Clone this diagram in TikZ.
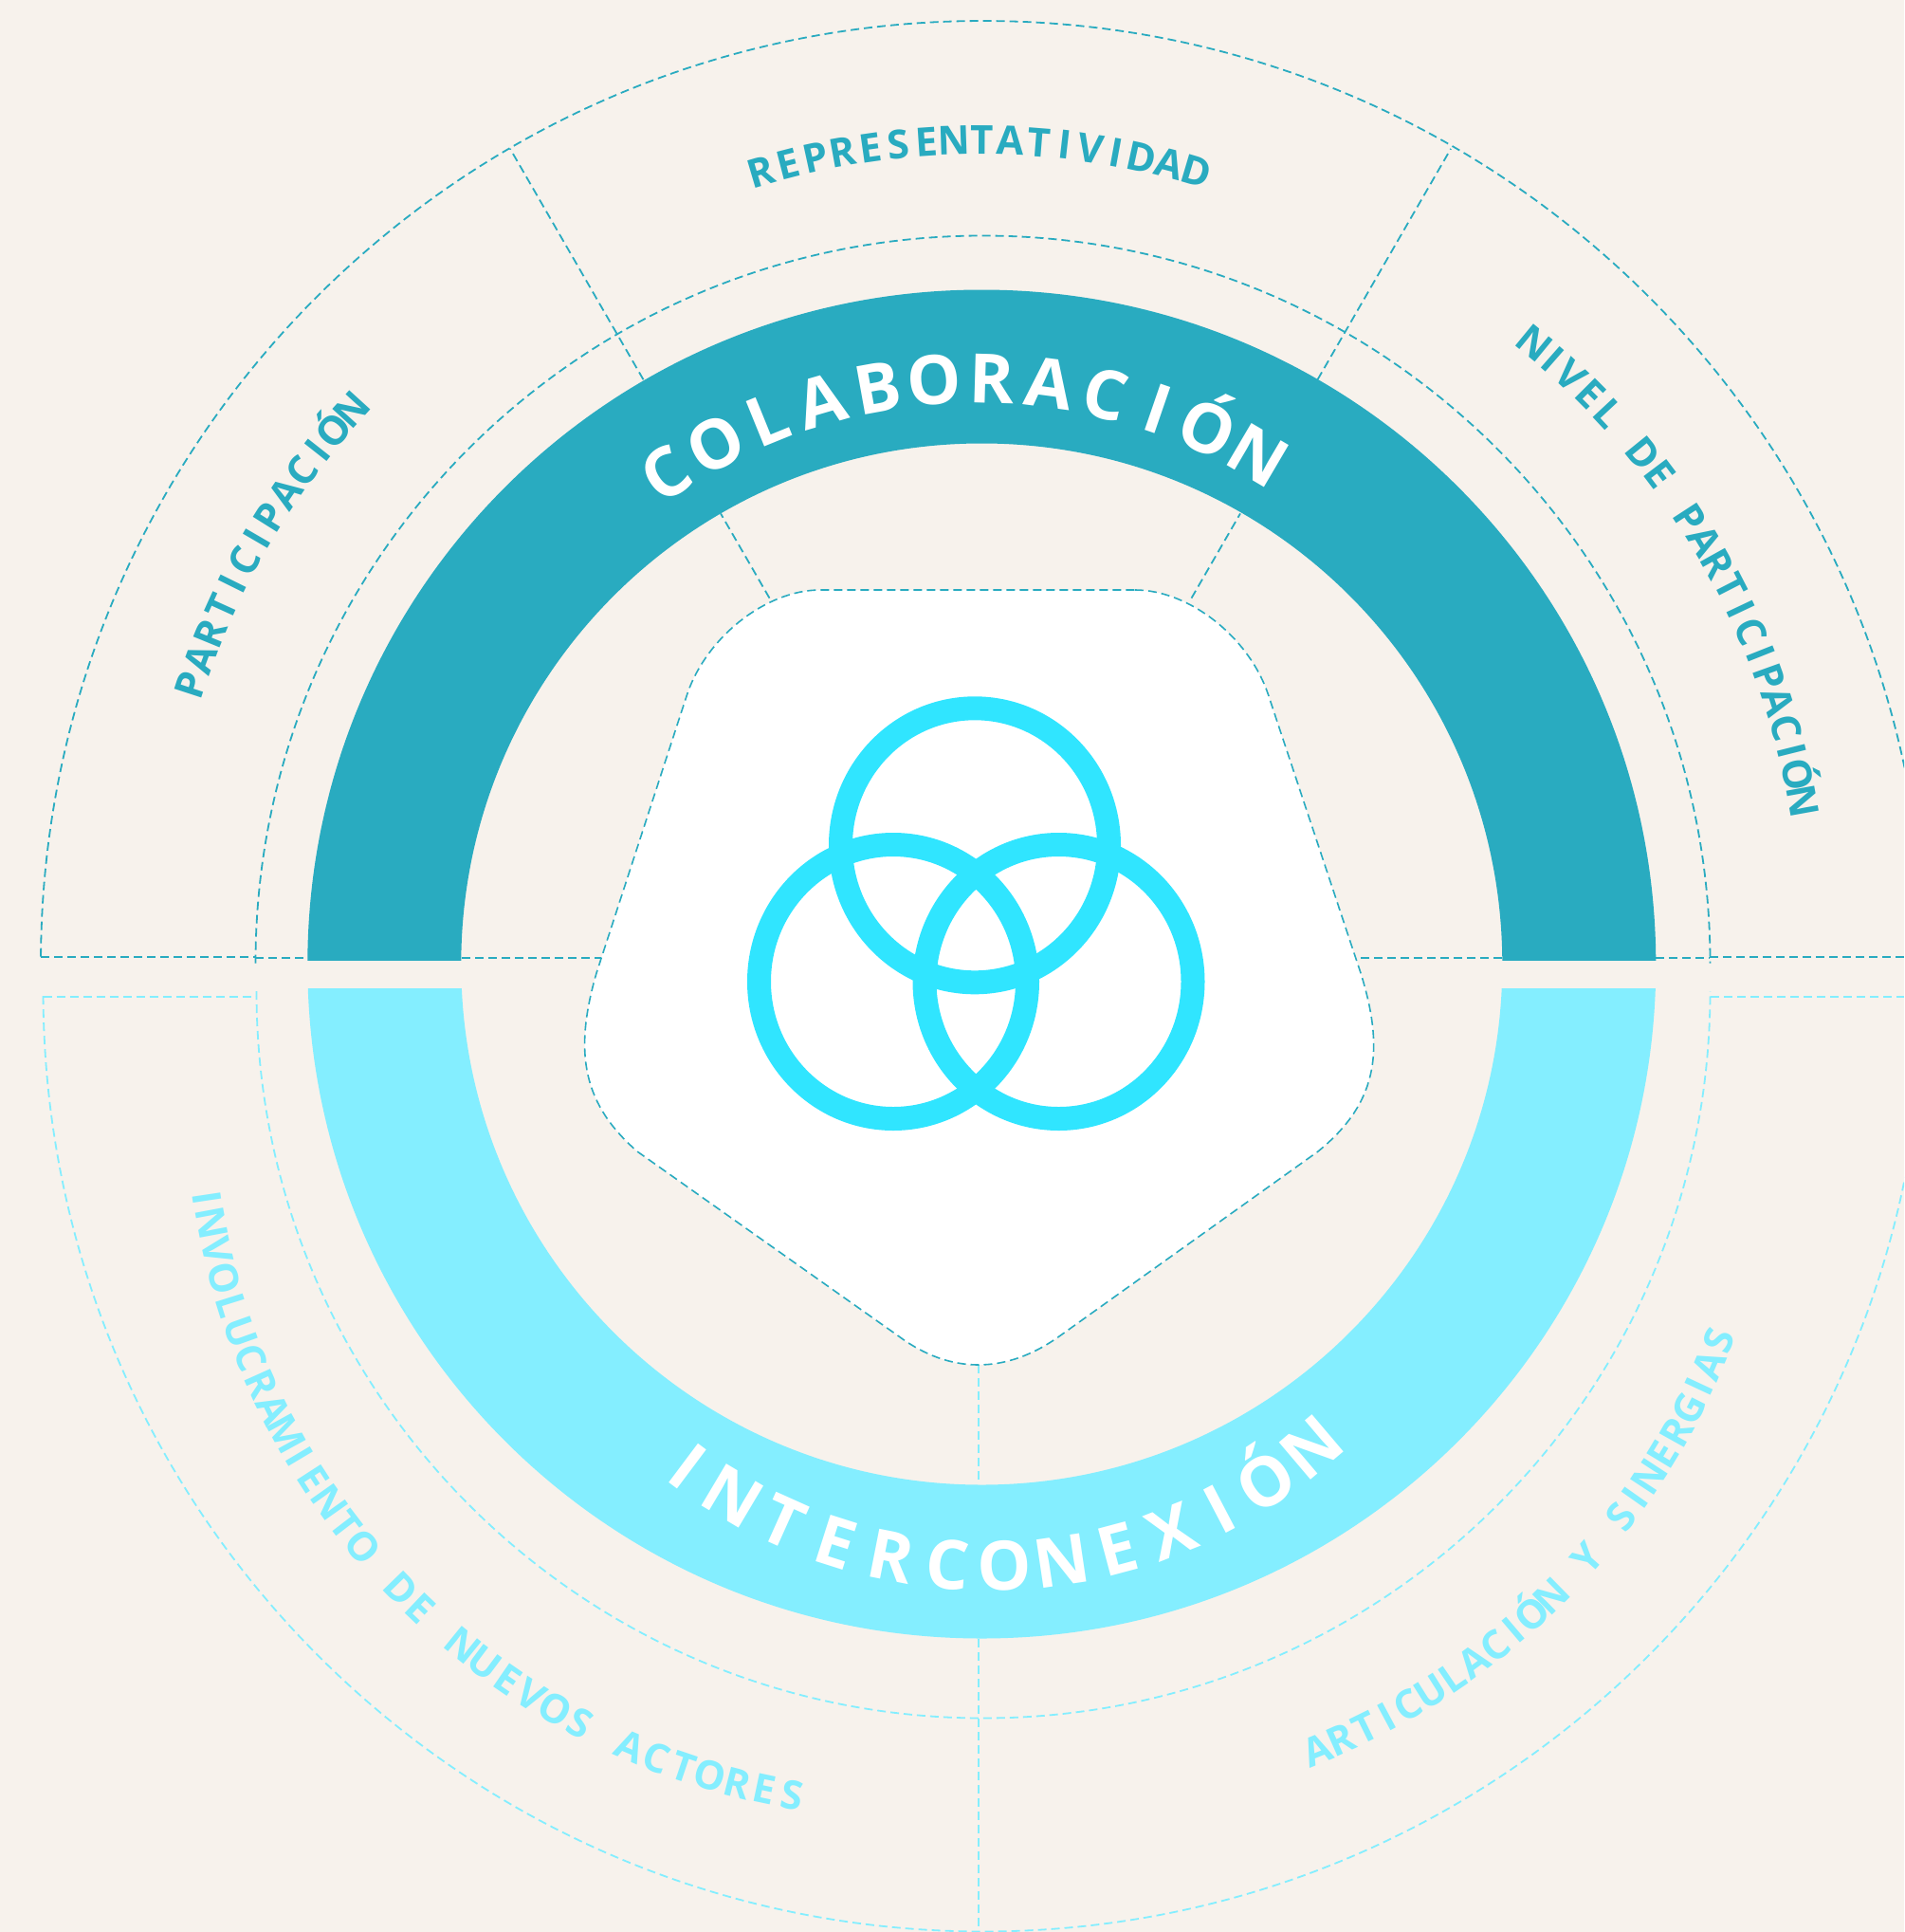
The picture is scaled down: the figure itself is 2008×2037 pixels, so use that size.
\documentclass[tikz,border=0pt]{standalone}
\usepackage{fontspec}
\setmainfont{Open Sans}
\usetikzlibrary{calc}
\definecolor{bgc}{HTML}{F7F2EC}
\definecolor{tealc}{HTML}{29ABC0}
\definecolor{lightc}{HTML}{84EEFF}
\definecolor{ringc}{HTML}{30E5FF}
\newlength\glyphw \newlength\totalw \newlength\runs \newlength\gapw
\newcount\glyphn
\def\spacemark{~}
\def\Imark{I}
% advance of one glyph: tighter for I and for the word space
\newcommand{\measureglyph}[1]{%
  \settowidth\glyphw{\lblfont\g}%
  \ifx\g\Imark \advance\glyphw by -0.1\dimexpr#1pt\relax \fi
  \ifx\g\spacemark \glyphw=0.1\glyphw \fi}
% cx, cy (px, down), radius, start angle, end angle, colour, size, comma list of glyphs
\newcommand{\arclabel}[8]{%
  \begingroup
  \def\lblfont{\fontsize{#7}{#7}\selectfont\bfseries}%
  \global\totalw=0pt \global\glyphn=0
  \foreach \g in {#8}{%
    \measureglyph{#7}%
    \global\advance\totalw by \glyphw
    \global\advance\glyphn by 1 }%
  \pgfmathsetmacro\arcsign{(#5)>(#4)?1:-1}%
  \pgfmathsetmacro\arclen{#3*(abs(#5-#4)/180*pi)}%
  \pgfmathsetlength\gapw{(\arclen pt-\totalw)/(\the\glyphn-1)}%
  \global\runs=0pt
  \foreach \g in {#8}{%
    \measureglyph{#7}%
    \ifx\g\spacemark\else
      \pgfmathsetmacro\th{#4+\arcsign*((\runs+0.5*\glyphw)/(#3)/pi*180)}%
      \pgfmathsetmacro\rot{\th+\arcsign*90}%
      \node[text=#6,inner sep=0pt,anchor=base,rotate=\rot] at ($(#1,-#2)+(\th:#3)$) {\lblfont\g};%
    \fi
    \global\advance\runs by \glyphw
    \global\advance\runs by \gapw }%
  \endgroup}
\tikzset{
  dashT/.style={draw=tealc,line width=1.8pt,dash pattern=on 9pt off 5pt},
  dashL/.style={draw=lightc,line width=1.8pt,dash pattern=on 9pt off 5pt},
  ringline/.style={draw=ringc,line width=25pt},
}
\begin{document}
\begin{tikzpicture}[x=1pt,y=1pt]
\useasboundingbox (0,0) rectangle (2008,-2037);
\clip (0,0) rectangle (2008,-2037);
\fill[bgc] (0,0) rectangle (2008,-2037);
\coordinate (c) at (1035.3,-1016.5);
\coordinate (s) at (1034,-1016);
\coordinate (u) at (1036.5,-1015.5);
\coordinate (l) at (1037,-1045);
% upper dashed arcs
\draw[dashT] (u) ++(179.6:993.5) arc[start angle=179.6,end angle=0.4,radius=993.5];
\draw[dashT] (u) ++(180:767) arc[start angle=180,end angle=0,radius=767];
% lower dashed arcs
\draw[dashL] (l) ++(180.3:991.5) arc[start angle=180.3,end angle=360,radius=991.5];
\draw[dashL] (l) ++(180:766.5) arc[start angle=180,end angle=360,radius=766.5];
% horizontals
\draw[dashT] (43,-1009) -- (270,-1009);
\draw[dashT] (269,-1010.3) -- (323.7,-1010.3);
\draw[dashT] (487,-1010.3) -- (634,-1010.3);
\draw[dashT] (1584,-1010.3) -- (1433,-1010.3);
\draw[dashT] (1746,-1010.3) -- (1803,-1010.3);
\draw[dashT] (1803,-1008.7) -- (2008,-1008.7);
\draw[dashL] (45.5,-1050.7) -- (271.4,-1050.7);
\draw[dashL] (1804,-1050.7) -- (2008,-1050.7);
% spokes
\draw[dashT] (s) ++(120:445) -- ++(120:103);
\draw[dashT] (s) ++(120:711) -- ++(120:281);
\draw[dashT] (s) ++(60:445) -- ++(60:103);
\draw[dashT] (s) ++(60:711) -- ++(60:281);
\draw[dashL] (1031.7,-1439) -- (1031.7,-1565);
\draw[dashL] (1031.7,-1728) -- (1031.7,-2037);
% bands
\begin{scope}
  \clip (0,-1012) rectangle (2008,0);
  \fill[tealc,even odd rule] (c) circle[radius=711] (c) circle[radius=549];
\end{scope}
\begin{scope}
  \clip (0,-1042.3) rectangle (2008,-2037);
  \fill[lightc,even odd rule] (c) circle[radius=711] (c) circle[radius=549];
\end{scope}
% central shape
\path[fill=white,dashT,line width=1.6pt]
  (1197,-622) .. controls (1254,-622) and (1318,-672) .. (1338,-734)
  -- (1435,-1026) .. controls (1462,-1112) and (1450,-1165) .. (1390,-1214)
  -- (1117,-1409) .. controls (1061,-1449) and (1002,-1449) .. (948,-1409)
  -- (672,-1214) .. controls (616,-1165) and (604,-1112) .. (629,-1026)
  -- (724,-734) .. controls (744,-672) and (808,-622) .. (865,-622) -- cycle;
% rings
\draw[ringline] (1028,-891.3) ellipse[x radius=141.5,y radius=144.5];
\draw[ringline] (942,-1035) ellipse[x radius=141.5,y radius=144.5];
\draw[ringline] (1116.5,-1035) ellipse[x radius=141.5,y radius=144.5];
% labels
\arclabel{1030}{985}{560}{124}{59.5}{white}{72}{C,O,L,A,B,O,R,A,C,I,Ó,N}
\arclabel{1042}{1124}{553}{233.5}{310.3}{white}{72}{I,N,T,E,R,C,O,N,E,X,I,Ó,N}
\arclabel{1032}{953.5}{791}{106.55}{73.45}{tealc}{42}{R,E,P,R,E,S,E,N,T,A,T,I,V,I,D,A,D}
\arclabel{1104}{988}{795}{50.6}{10.2}{tealc}{42}{N,I,V,E,L,~,D,E,~,P,A,R,T,I,C,I,P,A,C,I,Ó,N}
\arclabel{965}{972}{788}{161.9}{137.7}{tealc}{42}{P,A,R,T,I,C,I,P,A,C,I,Ó,N}
\arclabel{962}{1151}{767}{188.7}{260.3}{lightc}{42}{I,N,V,O,L,U,C,R,A,M,I,E,N,T,O,~,D,E,~,N,U,E,V,O,S,~,A,C,T,O,R,E,S}
\arclabel{1104.5}{1141}{774}{292}{339}{lightc}{42}{A,R,T,I,C,U,L,A,C,I,Ó,N,~,Y,~,S,I,N,E,R,G,I,A,S}
\end{tikzpicture}
\end{document}
